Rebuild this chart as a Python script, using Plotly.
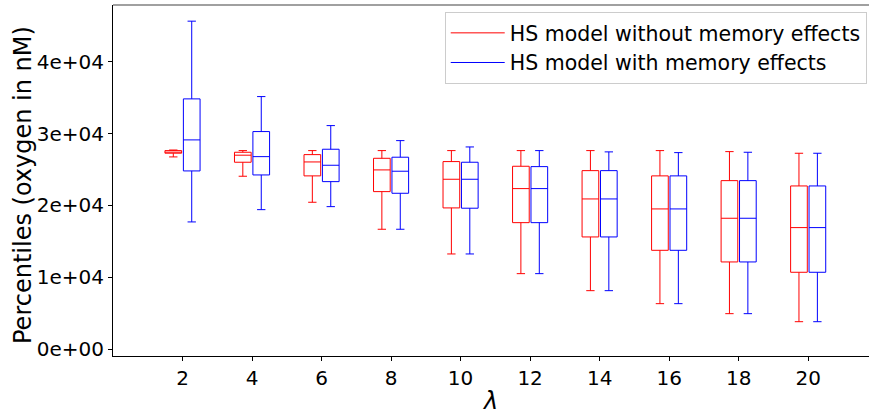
import plotly.graph_objects as go

lambdas = [2, 4, 6, 8, 10, 12, 14, 16, 18, 20]

# HS model without memory effects (red)
red_low = [26740, 24050, 20430, 16670, 13230, 10490, 8120, 6310, 4920, 3800]
red_q1 = [27260, 26000, 24100, 21910, 19640, 17590, 15600, 13740, 12120, 10680]
red_med = [27400, 26980, 26040, 24930, 23630, 22330, 20890, 19500, 18200, 16900]
red_q3 = [27620, 27390, 27060, 26550, 26090, 25440, 24830, 24100, 23440, 22700]
red_high = [27700, 27620, 27620, 27620, 27620, 27620, 27620, 27620, 27480, 27250]

# HS model with memory effects (blue)
blue_low = [17690, 19400, 19820, 16670, 13230, 10490, 8120, 6310, 4920, 3800]
blue_q1 = [24790, 24230, 23300, 21680, 19600, 17590, 15600, 13740, 12120, 10680]
blue_med = [29110, 26780, 25580, 24750, 23630, 22330, 20890, 19500, 18200, 16900]
blue_q3 = [34820, 30270, 27810, 26700, 26000, 25390, 24830, 24100, 23440, 22700]
blue_high = [45640, 35140, 31100, 29010, 28130, 27620, 27440, 27340, 27390, 27250]

ytick_vals = [0, 10000, 20000, 30000, 40000]
ytick_text = ["0e+00", "1e+04", "2e+04", "3e+04", "4e+04"]

names = ["HS model without memory effects", "HS model with memory effects"]
colors = ["#ff0000", "#0000ff"]
offset = 0.265
bw = 0.48

fig = go.Figure()
series = [
    (red_low, red_q1, red_med, red_q3, red_high, -offset),
    (blue_low, blue_q1, blue_med, blue_q3, blue_high, offset),
]
for (lo, q1, md, q3, hi, off), col in zip(series, colors):
    fig.add_trace(go.Box(
        x=[l + off for l in lambdas],
        lowerfence=lo, q1=q1, median=md, q3=q3, upperfence=hi,
        width=bw, whiskerwidth=0.5,
        line=dict(color=col, width=1),
        fillcolor="rgba(0,0,0,0)",
        showlegend=False, hoverinfo="skip",
    ))

for nm, col in zip(names, colors):
    fig.add_trace(go.Scatter(
        x=[None], y=[None], mode="lines", name=nm,
        line=dict(color=col, width=1),
    ))

fig.add_shape(type="line", xref="paper", yref="paper", x0=0, x1=1, y0=1, y1=1,
              line=dict(color="#808080", width=1.5))

fig.add_annotation(
    text="Percentiles (oxygen in nM)", textangle=-90,
    xref="paper", yref="paper", x=(23 - 113) / 756, y=(356 - 185) / 351,
    xanchor="center", yanchor="middle", showarrow=False,
    font=dict(family="DejaVu Sans", size=24, color="black"),
)

font = dict(family="DejaVu Sans", size=20, color="black")
fig.update_layout(
    width=869, height=415,
    margin=dict(l=113, r=0, t=5, b=59),
    paper_bgcolor="white", plot_bgcolor="white",
    boxmode="overlay",
    font=font,
    showlegend=True,
    legend=dict(
        x=0.997, y=0.98, xanchor="right", yanchor="top",
        bordercolor="#cccccc", borderwidth=1, bgcolor="rgba(255,255,255,0.8)",
        font=dict(family="DejaVu Sans", size=20.5, color="black"),
        itemwidth=54,
    ),
    xaxis=dict(
        range=[0, 21.75], tickvals=lambdas, ticktext=[str(l) for l in lambdas],
        showgrid=False, zeroline=False, showline=True, linecolor="black", linewidth=1,
        ticks="outside", ticklen=4, tickcolor="black",
        tickfont=font,
        title=dict(text="<i>λ</i>", font=dict(family="DejaVu Sans", size=24), standoff=9),
    ),
    yaxis=dict(
        range=[-975, 47890], tickvals=ytick_vals, ticktext=ytick_text,
        showgrid=False, zeroline=False, showline=True, linecolor="black", linewidth=1,
        ticks="outside", ticklen=4, tickcolor="black",
        tickfont=font,
    ),
)

fig.write_html("out.html")
